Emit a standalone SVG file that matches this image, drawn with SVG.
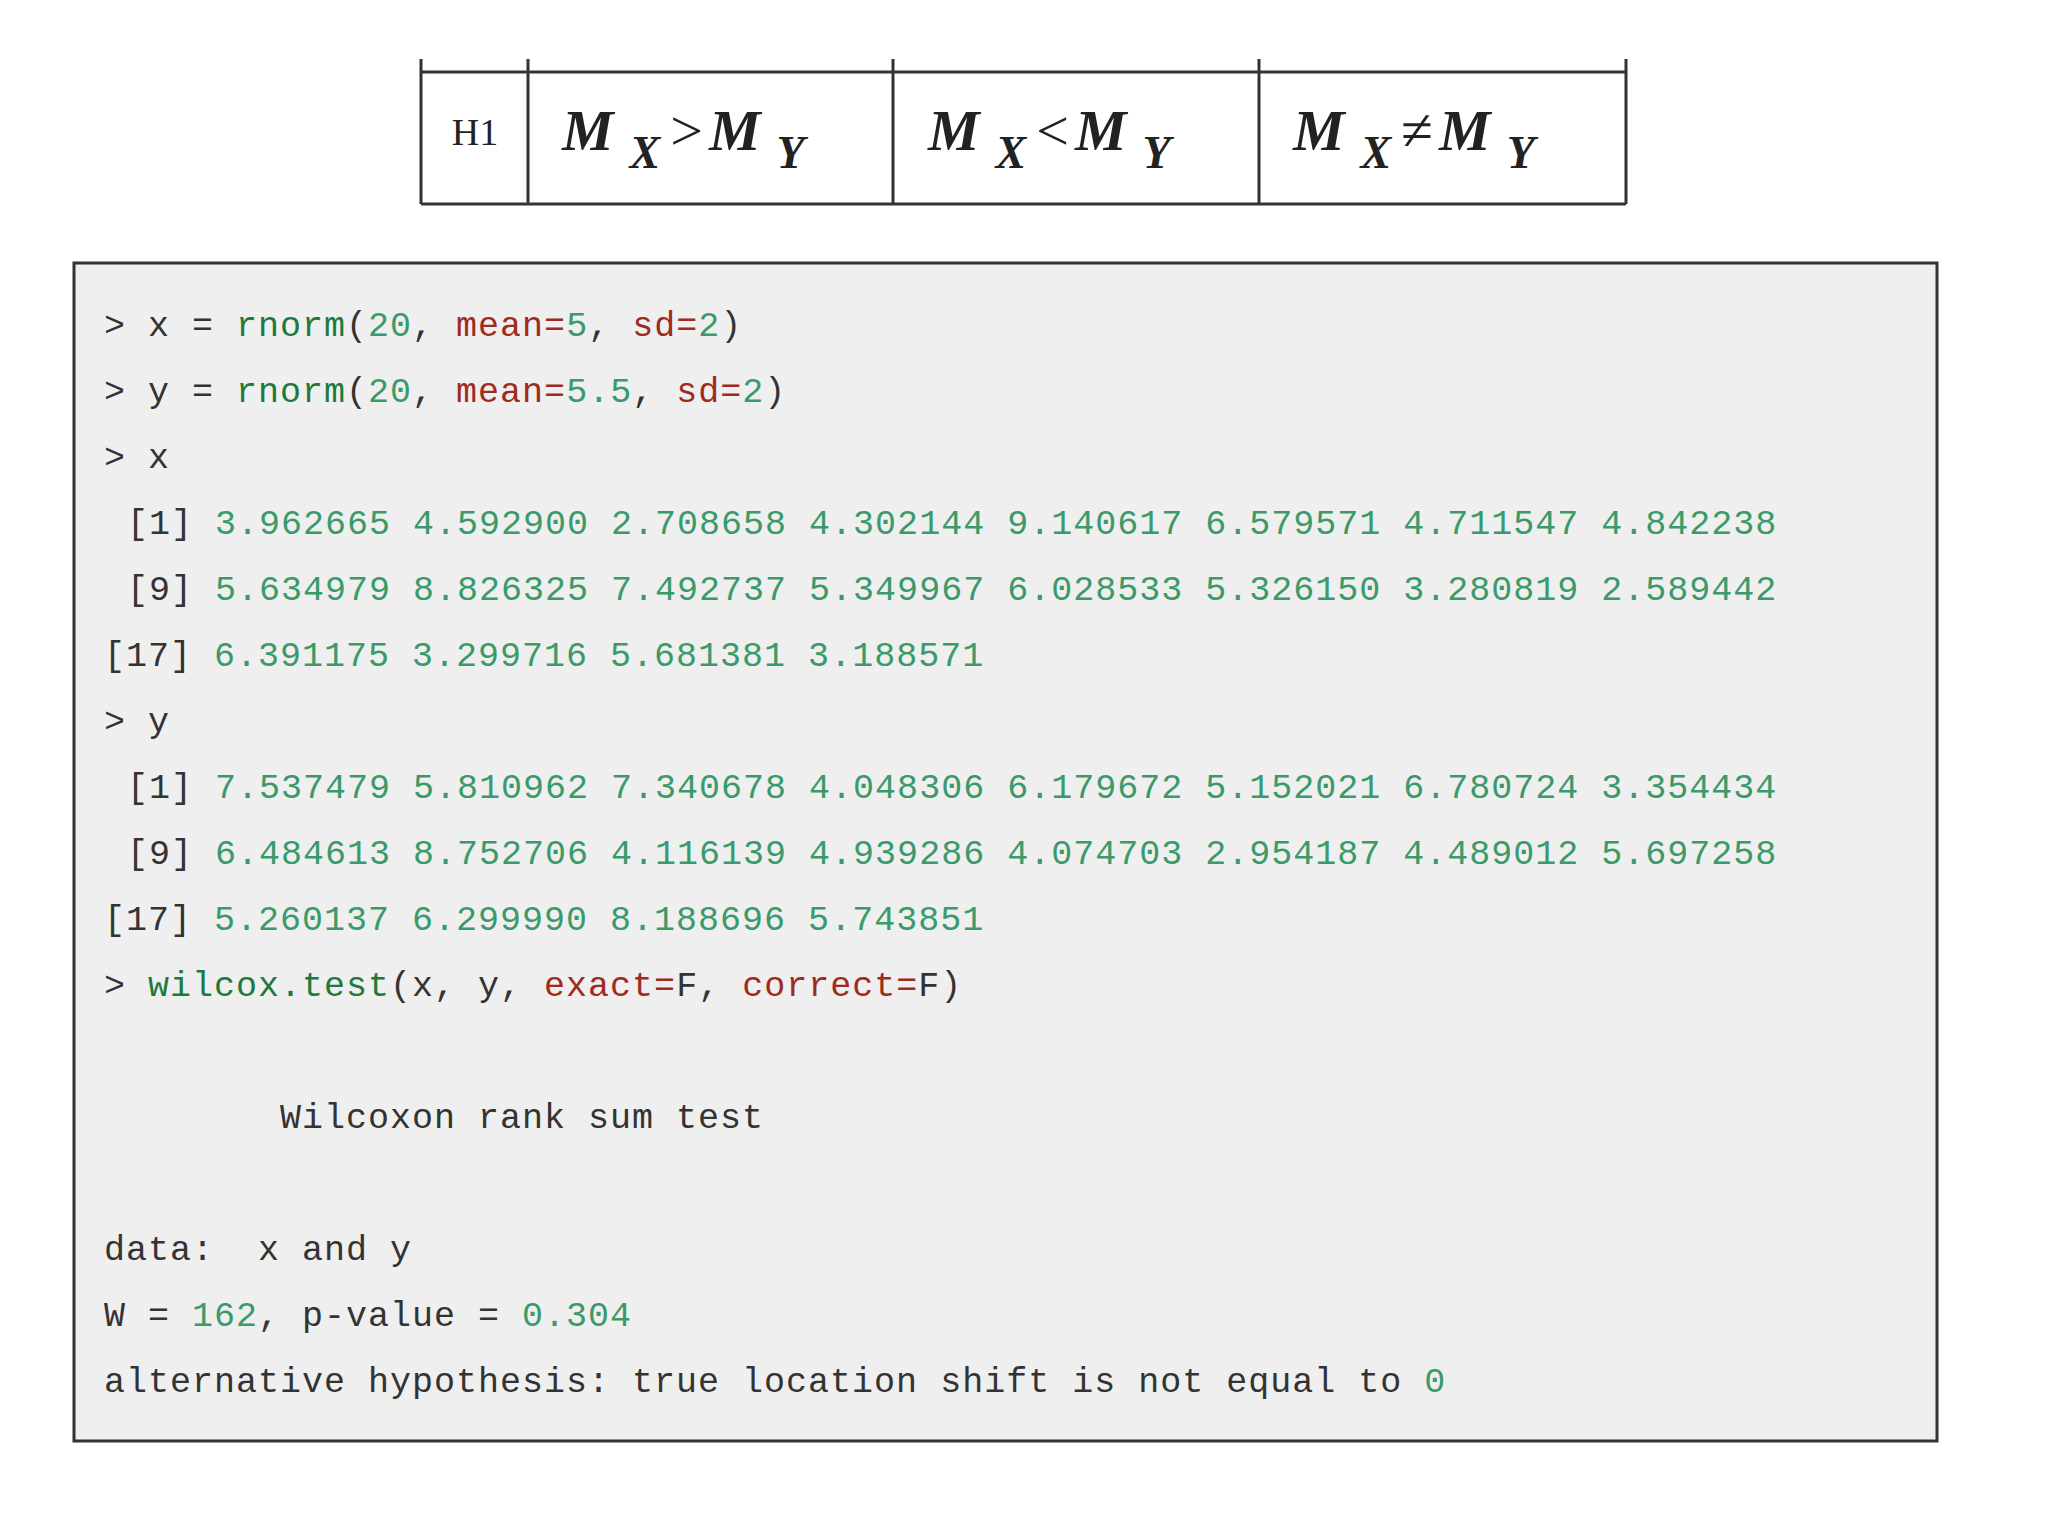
<svg xmlns="http://www.w3.org/2000/svg" width="2048" height="1536" viewBox="0 0 2048 1536">
<style>
.c{font-family:"Liberation Mono","Noto Sans CJK SC",monospace;font-size:35px;fill:#333;letter-spacing:1px}
.g{fill:#3a9a6a}.d{fill:#1e7a3c}.r{fill:#a02a1e}
.m{font-family:"Liberation Serif",serif;font-style:italic;font-weight:bold;fill:#222}
.ln{stroke:#333;stroke-width:3;fill:none}
</style>
<rect width="2048" height="1536" fill="#fff"/>
<g id="table">
<path class="ln" d="M421 72H1626M421 204H1626M421 59V204M528 59V204M893 59V204M1259 59V204M1626 59V204"/>
<text x="475" y="145" text-anchor="middle" font-family="Liberation Serif,serif" font-size="38" fill="#222">H1</text>
<text class="m" x="562" y="150" font-size="58">M<tspan font-size="46" dx="16" dy="18">X</tspan><tspan dx="10" dy="-18" font-style="normal" font-weight="normal">&gt;</tspan><tspan dx="6">M</tspan><tspan font-size="46" dx="16" dy="18">Y</tspan></text>
<text class="m" x="928" y="150" font-size="58">M<tspan font-size="46" dx="16" dy="18">X</tspan><tspan dx="10" dy="-18" font-style="normal" font-weight="normal">&lt;</tspan><tspan dx="6">M</tspan><tspan font-size="46" dx="16" dy="18">Y</tspan></text>
<text class="m" x="1293" y="150" font-size="58">M<tspan font-size="46" dx="16" dy="18">X</tspan><tspan dx="10" dy="-18" font-style="normal" font-weight="normal">≠</tspan><tspan dx="6">M</tspan><tspan font-size="46" dx="16" dy="18">Y</tspan></text>
</g>
<g id="code">
<rect x="74" y="263" width="1863" height="1178" fill="#efefef" stroke="#333" stroke-width="3"/>
<g class="c">
<text x="104" y="336">&gt; x = <tspan class="d">rnorm</tspan>(<tspan class="g">20</tspan>, <tspan class="r">mean=</tspan><tspan class="g">5</tspan>, <tspan class="r">sd=</tspan><tspan class="g">2</tspan>)</text>
<text x="104" y="402">&gt; y = <tspan class="d">rnorm</tspan>(<tspan class="g">20</tspan>, <tspan class="r">mean=</tspan><tspan class="g">5.5</tspan>, <tspan class="r">sd=</tspan><tspan class="g">2</tspan>)</text>
<text x="104" y="468">&gt; x</text>
<text x="127" y="534">[1] <tspan class="g">3.962665 4.592900 2.708658 4.302144 9.140617 6.579571 4.711547 4.842238</tspan></text>
<text x="127" y="600">[9] <tspan class="g">5.634979 8.826325 7.492737 5.349967 6.028533 5.326150 3.280819 2.589442</tspan></text>
<text x="104" y="666">[17] <tspan class="g">6.391175 3.299716 5.681381 3.188571</tspan></text>
<text x="104" y="732">&gt; y</text>
<text x="127" y="798">[1] <tspan class="g">7.537479 5.810962 7.340678 4.048306 6.179672 5.152021 6.780724 3.354434</tspan></text>
<text x="127" y="864">[9] <tspan class="g">6.484613 8.752706 4.116139 4.939286 4.074703 2.954187 4.489012 5.697258</tspan></text>
<text x="104" y="930">[17] <tspan class="g">5.260137 6.299990 8.188696 5.743851</tspan></text>
<text x="104" y="996">&gt; <tspan class="d">wilcox.test</tspan>(x, y, <tspan class="r">exact=</tspan>F, <tspan class="r">correct=</tspan>F)</text>
<text x="280" y="1128">Wilcoxon rank sum test</text>
<text x="104" y="1260">data:<tspan x="258">x and y</tspan></text>
<text x="104" y="1326">W = <tspan class="g">162</tspan>, p-value = <tspan class="g">0.304</tspan></text>
<text x="104" y="1392">alternative hypothesis: true location shift is not equal to <tspan class="g">0</tspan></text>
</g>
</g>
</svg>
